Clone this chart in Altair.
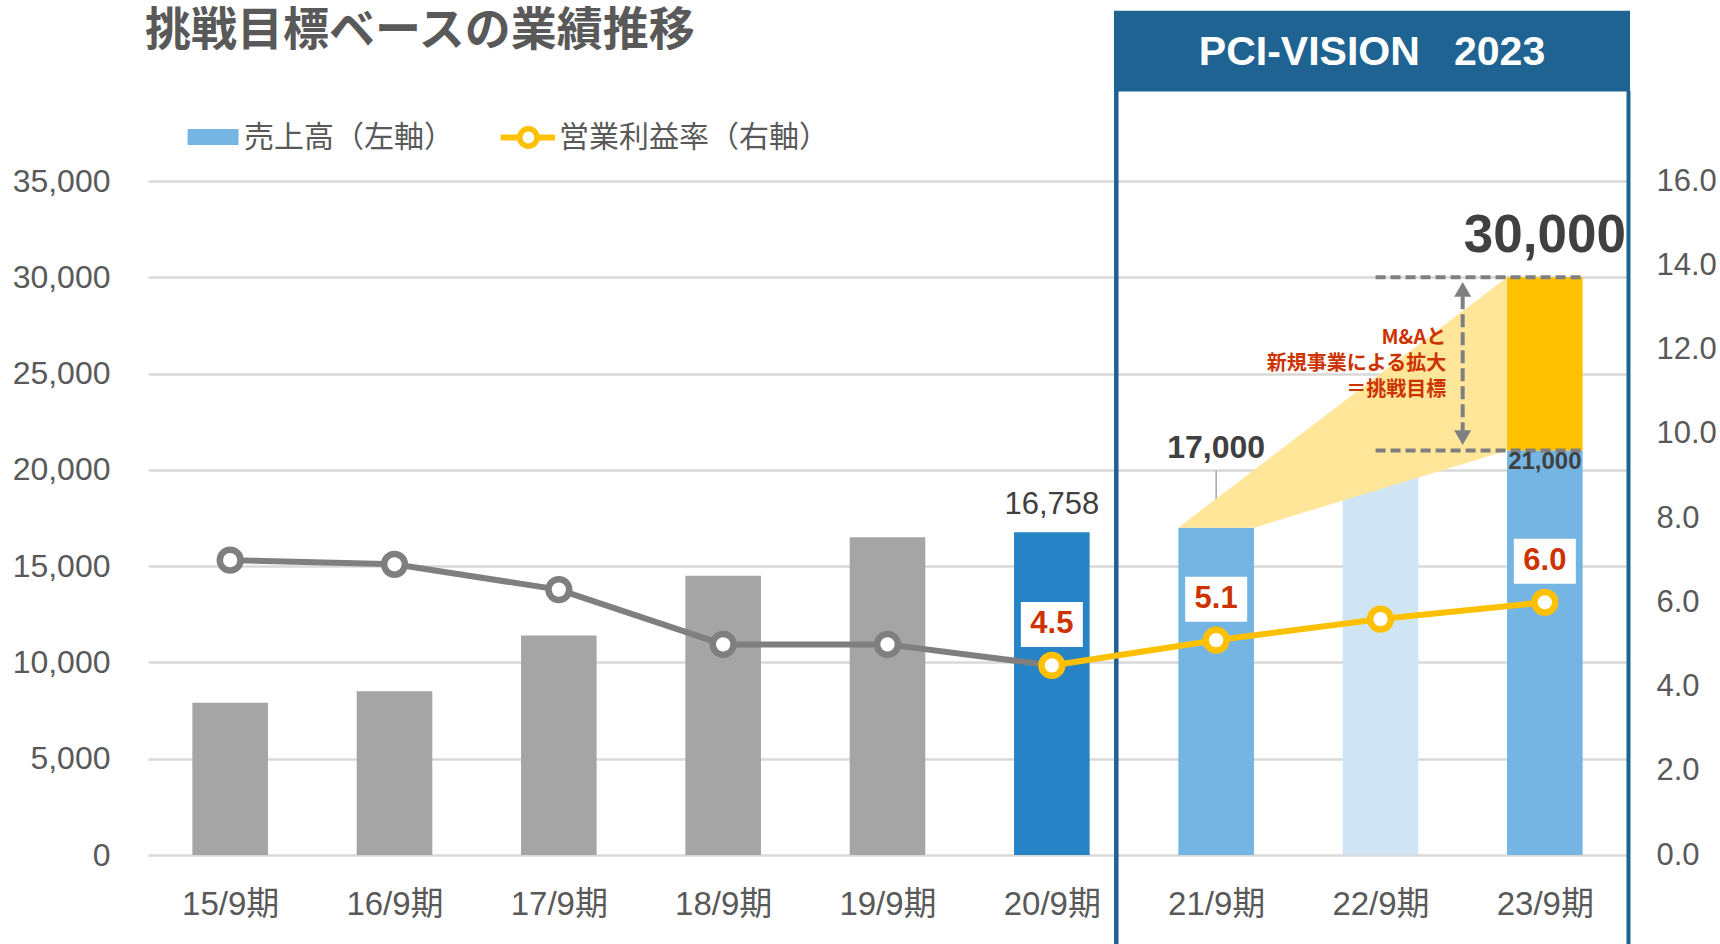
import json
import altair as alt
import pandas as pd

# ---------------- data ----------------
periods = ["15/9期", "16/9期", "17/9期", "18/9期", "19/9期", "20/9期", "21/9期", "22/9期", "23/9期"]
sales = [7900, 8500, 11400, 14500, 16500, 16758, 17000, 20000, 21000]
challenge_total = 30000
op_margin = [7.0, 6.9, 6.3, 5.0, 5.0, 4.5, 5.1, 5.6, 6.0]
bar_group = ["past", "past", "past", "past", "past", "latest", "plan", "plan_mid", "plan"]
margin_group = ["past", "past", "past", "past", "past", "plan", "plan", "plan", "plan"]
labelled_margin = ["20/9期", "21/9期", "23/9期"]
sales_ticks = [0, 5000, 10000, 15000, 20000, 25000, 30000, 35000]
margin_ticks = [0, 2, 4, 6, 8, 10, 12, 14, 16]
annotation = "M&Aと\n新規事業による拡大\n＝挑戦目標"

# ---------------- layout / style ----------------
W, H = 1479, 674
PAD_L, PAD_T = 148, 181
BAR_HALF = 0.23
JP = "Noto Sans CJK JP"
LAT = "Liberation Sans"
GREY_TXT = "#595959"
DARK_TXT = "#404040"
RED = "#CC3300"
NAVY = "#1F6392"

group_scale = alt.Scale(
    domain=["past", "latest", "plan", "plan_mid", "challenge"],
    range=["#A5A5A5", "#2683C6", "#75B5E3", "#D0E5F4", "#FFC000"],
)
seg_scale = alt.Scale(domain=["past", "plan"], range=["#7F7F7F", "#FFC000"])
x_scale = alt.Scale(domain=[-0.5, len(periods) - 0.5], nice=False, zero=False)
ys_scale = alt.Scale(domain=[0, 35000], nice=False)
yr_scale = alt.Scale(domain=[0, 16], nice=False)

x_axis = alt.Axis(
    orient="bottom",
    values=list(range(len(periods))),
    labelExpr=json.dumps(periods, ensure_ascii=False) + "[datum.value]",
    title=None, grid=False, domain=False, ticks=False,
    labelFont=LAT + ", " + JP, labelFontSize=33, labelColor=GREY_TXT,
    labelPadding=33, labelOverlap=False, labelFlush=False,
)
left_axis = alt.Axis(
    orient="left", values=sales_ticks, format=",d", title=None, grid=True,
    gridColor="#D9D9D9", gridWidth=2.3, domain=False, ticks=False,
    labelFont=LAT, labelFontSize=32, labelColor=GREY_TXT, labelPadding=38,
)
right_axis = alt.Axis(
    orient="right", values=margin_ticks, format=".1f", title=None, grid=False,
    domain=False, ticks=False, labelFont=LAT, labelFontSize=31,
    labelColor=GREY_TXT, labelPadding=29,
)


def X(field):
    return alt.X(field, type="quantitative", scale=x_scale, axis=x_axis)


def YS(field, axis=None):
    return alt.Y(field, type="quantitative", scale=ys_scale, axis=axis)


def YR(field, axis=None):
    return alt.Y(field, type="quantitative", scale=yr_scale, axis=axis)


# ---------------- tables ----------------
n = len(periods)
bars_df = pd.DataFrame({
    "idx": list(range(n)) + [n - 1],
    "period": periods + [periods[-1]],
    "lo": [0] * n + [sales[-1]],
    "hi": sales + [challenge_total],
    "group": bar_group + ["challenge"],
})

i_a, i_b = n - 3, n - 1  # 21/9 and 23/9
xa0, xa1, xb0 = i_a - BAR_HALF, i_a + BAR_HALF, i_b - BAR_HALF
upper_mid = sales[i_a] + (xa1 - xa0) / (xb0 - xa0) * (challenge_total - sales[i_a])
trap_df = pd.DataFrame({
    "x": [xa0, xa1, xb0],
    "top": [sales[i_a], upper_mid, challenge_total],
    "bot": [sales[i_a], sales[i_a], sales[i_b]],
})

margin_df = pd.DataFrame({
    "idx": list(range(n)), "period": periods, "rate": op_margin, "seg": margin_group,
    "labelled": [p in labelled_margin for p in periods],
})
first_plan = margin_group.index("plan")
line_rows = []
for i in range(n):
    if i <= first_plan:
        line_rows.append({"idx": i, "rate": op_margin[i], "seg": "past"})
for i in range(first_plan, n):
    line_rows.append({"idx": i, "rate": op_margin[i], "seg": "plan"})
line_df = pd.DataFrame(line_rows)

dash_df = pd.DataFrame({"v": [sales[i_b], challenge_total], "x0": [6.97, 6.97], "x1": [i_b + BAR_HALF] * 2})
one = pd.DataFrame({"k": [0]})

# ---------------- sales layers ----------------
bars = alt.Chart(bars_df).transform_calculate(
    x0=f"datum.idx - {BAR_HALF}", x1=f"datum.idx + {BAR_HALF}"
).mark_rect().encode(
    x=X("x0"), x2="x1:Q",
    y=YS("hi", left_axis), y2="lo:Q",
    color=alt.Color("group:N", scale=group_scale, legend=None),
)

sub = bars_df[bars_df.idx == i_a].head(1)
leader = alt.Chart(sub).mark_rule(color="#A6A6A6", strokeWidth=1.5, y2Offset=-57).encode(
    x=X("idx"), y=YS("hi"), y2="hi:Q"
)

trap = alt.Chart(trap_df).mark_area(color="#FFE699", opacity=1, interpolate="linear").encode(
    x=X("x"), y=YS("top"), y2="bot:Q"
)

dashes = alt.Chart(dash_df).mark_rule(color="#7F7F7F", strokeWidth=4, strokeDash=[10, 5]).encode(
    x=X("x0"), x2="x1:Q", y=YS("v")
)

arrow_df = pd.DataFrame({"x": [7.5], "top": [challenge_total], "bot": [sales[i_b]]})
arrow_line = alt.Chart(arrow_df).mark_rule(
    color="#7F7F7F", strokeWidth=4, strokeDash=[13, 5], yOffset=19, y2Offset=-20
).encode(x=X("x"), y=YS("top"), y2="bot:Q")
arrow_up = alt.Chart(arrow_df).mark_point(
    shape="triangle-up", size=290, filled=True, color="#7F7F7F", opacity=1, yOffset=12
).encode(x=X("x"), y=YS("top"))
arrow_dn = alt.Chart(arrow_df).mark_point(
    shape="triangle-down", size=290, filled=True, color="#7F7F7F", opacity=1, yOffset=-13
).encode(x=X("x"), y=YS("bot"))

annot_df = pd.DataFrame({"x": [7.40], "y": [(sales[i_b] + challenge_total) / 2], "t": [annotation]})
annot = alt.Chart(annot_df).mark_text(
    font=JP, fontSize=20, fontWeight="bold", color=RED, align="right",
    baseline="middle", lineBreak="\n", lineHeight=26, dy=-26,
).encode(x=X("x"), y=YS("y"), text="t:N")

lbl_latest = alt.Chart(bars_df[bars_df.group == "latest"]).mark_text(
    font=LAT, fontSize=31, color=DARK_TXT, baseline="middle", dy=-27
).encode(x=X("idx"), y=YS("hi"), text=alt.Text("hi:Q", format=","))
lbl_plan1 = alt.Chart(sub).mark_text(
    font=LAT, fontSize=32, fontWeight="bold", color=DARK_TXT, baseline="middle", dy=-80
).encode(x=X("idx"), y=YS("hi"), text=alt.Text("hi:Q", format=","))
lbl_total = alt.Chart(bars_df[bars_df.group == "challenge"]).mark_text(
    font=LAT, fontSize=53, fontWeight="bold", color=DARK_TXT, baseline="middle", dy=-41
).encode(x=X("idx"), y=YS("hi"), text=alt.Text("hi:Q", format=","))
lbl_base = alt.Chart(bars_df[(bars_df.idx == i_b) & (bars_df.group == "plan")]).mark_text(
    font=LAT, fontSize=24, fontWeight="bold", color=DARK_TXT, baseline="middle", dy=11
).encode(x=X("idx"), y=YS("hi"), text=alt.Text("hi:Q", format=","))

# frame of the PCI-VISION box
header = alt.Chart(one).mark_rect(color=NAVY).encode(
    x=alt.value(966), x2=alt.value(1482), y=alt.value(-170.3), y2=alt.value(-89.5)
)
frame_l = alt.Chart(one).mark_rule(color=NAVY, strokeWidth=4.5).encode(
    x=alt.value(968.3), y=alt.value(-90), y2=alt.value(763)
)
frame_r = alt.Chart(one).mark_rule(color=NAVY, strokeWidth=4).encode(
    x=alt.value(1480.5), y=alt.value(-90), y2=alt.value(763)
)
header_txt = alt.Chart(one).mark_text(
    font=LAT, fontSize=41, fontWeight="bold", color="white", align="center", baseline="middle"
).encode(x=alt.value(1224), y=alt.value(-128.5), text=alt.value("PCI-VISION\u00a0\u00a0\u00a02023"))

# ---------------- margin layers ----------------
line = alt.Chart(line_df).mark_line(strokeWidth=6).encode(
    x=X("idx"), y=YR("rate", right_axis),
    stroke=alt.Stroke("seg:N", scale=seg_scale, legend=None), detail="seg:N",
)
pts = alt.Chart(margin_df).mark_point(
    shape="circle", size=430, filled=True, fill="white", strokeWidth=6.5, opacity=1
).encode(x=X("idx"), y=YR("rate"), stroke=alt.Stroke("seg:N", scale=seg_scale, legend=None))
boxes = alt.Chart(margin_df).transform_filter("datum.labelled").mark_rect(
    color="white", xOffset=-31, x2Offset=31, yOffset=-63.5, y2Offset=-18.5
).encode(x=X("idx"), x2="idx:Q", y=YR("rate"), y2="rate:Q")
rate_txt = alt.Chart(margin_df).transform_filter("datum.labelled").mark_text(
    font=LAT, fontSize=31, fontWeight="bold", color=RED, baseline="middle", dy=-41
).encode(x=X("idx"), y=YR("rate"), text=alt.Text("rate:Q", format=".1f"))

# title and legend
title = alt.Chart(one).mark_text(
    font=JP, fontSize=46, fontWeight="bold", color=GREY_TXT, align="left", baseline="middle"
).encode(x=alt.value(-3), y=alt.value(-150), text=alt.value("挑戦目標ベースの業績推移"))
leg_sw = alt.Chart(one).mark_rect(color="#75B5E3").encode(
    x=alt.value(39.6), x2=alt.value(90.5), y=alt.value(-52), y2=alt.value(-36)
)
leg_t1 = alt.Chart(one).mark_text(
    font=JP, fontSize=30, color=GREY_TXT, align="left", baseline="middle"
).encode(x=alt.value(96), y=alt.value(-43), text=alt.value("売上高（左軸）"))
leg_ln = alt.Chart(one).mark_rule(color="#FFC000", strokeWidth=6).encode(
    x=alt.value(352.7), x2=alt.value(407), y=alt.value(-43.5)
)
leg_pt = alt.Chart(one).mark_point(
    shape="circle", size=300, filled=True, fill="white", stroke="#FFC000", strokeWidth=5.5, opacity=1
).encode(x=alt.value(380.4), y=alt.value(-43.5))
leg_t2 = alt.Chart(one).mark_text(
    font=JP, fontSize=30, color=GREY_TXT, align="left", baseline="middle"
).encode(x=alt.value(411), y=alt.value(-43), text=alt.value("営業利益率（右軸）"))

chart = alt.layer(
    bars, leader, trap, dashes, arrow_line, arrow_up, arrow_dn, annot,
    lbl_latest, lbl_plan1, lbl_total, lbl_base, header, frame_l, frame_r, header_txt,
    line, pts, boxes, rate_txt, title, leg_sw, leg_t1, leg_ln, leg_pt, leg_t2,
).resolve_scale(y="independent").properties(
    width=W, height=H,
    autosize=alt.AutoSizeParams(type="none"),
    padding={"left": PAD_L, "top": PAD_T, "right": 1720 - PAD_L - W, "bottom": 944 - PAD_T - H},
    background="white",
).configure_view(stroke=None)

chart.save("out.html", embed_options={"renderer": "svg", "actions": False})
